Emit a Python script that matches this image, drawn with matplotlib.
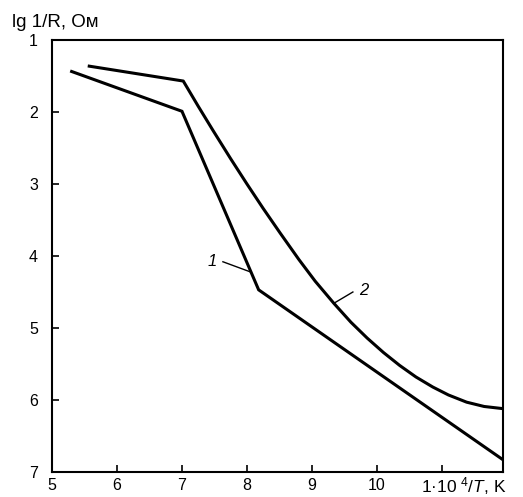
import matplotlib
matplotlib.use("Agg")
import matplotlib.pyplot as plt

plt.rcParams["font.family"] = ["Liberation Sans", "DejaVu Sans"]
plt.rcParams["mathtext.fontset"] = "custom"
plt.rcParams["mathtext.rm"] = "Liberation Sans"
plt.rcParams["mathtext.it"] = "Liberation Sans:italic"

# curve 1: piecewise-linear
x1 = [5.28, 7.00, 8.18, 11.94]
y1 = [1.43, 1.99, 4.47, 6.83]

# curve 2: kink then smooth decay
x2 = [5.55, 7.02, 7.25, 7.48, 7.75, 8.00, 8.25, 8.51, 8.80, 9.05, 9.34,
      9.60, 9.85, 10.10, 10.35, 10.60, 10.86, 11.10, 11.38, 11.65, 11.94]
y2 = [1.36, 1.57, 1.92, 2.26, 2.65, 3.00, 3.34, 3.68, 4.05, 4.35, 4.66,
      4.92, 5.14, 5.34, 5.52, 5.68, 5.82, 5.93, 6.03, 6.09, 6.12]

xticks = [5, 6, 7, 8, 9, 10, 11]
xticklabels = ["5", "6", "7", "8", "9", "10", ""]
yticks = [1, 2, 3, 4, 5, 6, 7]

fig = plt.figure(figsize=(5.23, 4.97), dpi=100)
ax = fig.add_axes([52 / 523, 1 - 472 / 497, 451 / 523, 432 / 497])

lw = 2.2
ax.plot(x1, y1, color="black", linewidth=lw, solid_capstyle="butt", solid_joinstyle="miter")
ax.plot(x2, y2, color="black", linewidth=lw, solid_capstyle="butt", solid_joinstyle="round")

ax.set_xlim(5, 11.94)
ax.set_ylim(7, 1)
ax.set_xticks(xticks)
ax.set_xticklabels(xticklabels)
ax.set_yticks(yticks)

for s in ax.spines.values():
    s.set_linewidth(1.5)
ax.tick_params(direction="in", length=5, width=1.2, labelsize=11.5, colors="black")
ax.tick_params(axis="x", pad=4)
ax.tick_params(axis="y", pad=10)

# curve labels with leader lines
ax.plot([7.63, 8.05], [4.08, 4.22], color="black", linewidth=1.0)
ax.text(7.46, 4.08, "1", fontsize=12, style="italic", ha="center", va="center")
ax.plot([9.63, 9.35], [4.50, 4.65], color="black", linewidth=1.0)
ax.text(9.80, 4.48, "2", fontsize=12, style="italic", ha="center", va="center")

# axis titles
ax.annotate(r"1·10 $^{4}$/$\mathit{T}$, K", xy=(10.68, 0), xycoords=ax.get_xaxis_transform(),
            xytext=(0, -14.4), textcoords="offset points", ha="left", va="baseline", fontsize=12.5)
fig.text(12 / 523, 1 - 27 / 497, "lg 1/R, Ом", fontsize=13.5, ha="left", va="baseline")

fig.savefig("out.png", dpi=100)
